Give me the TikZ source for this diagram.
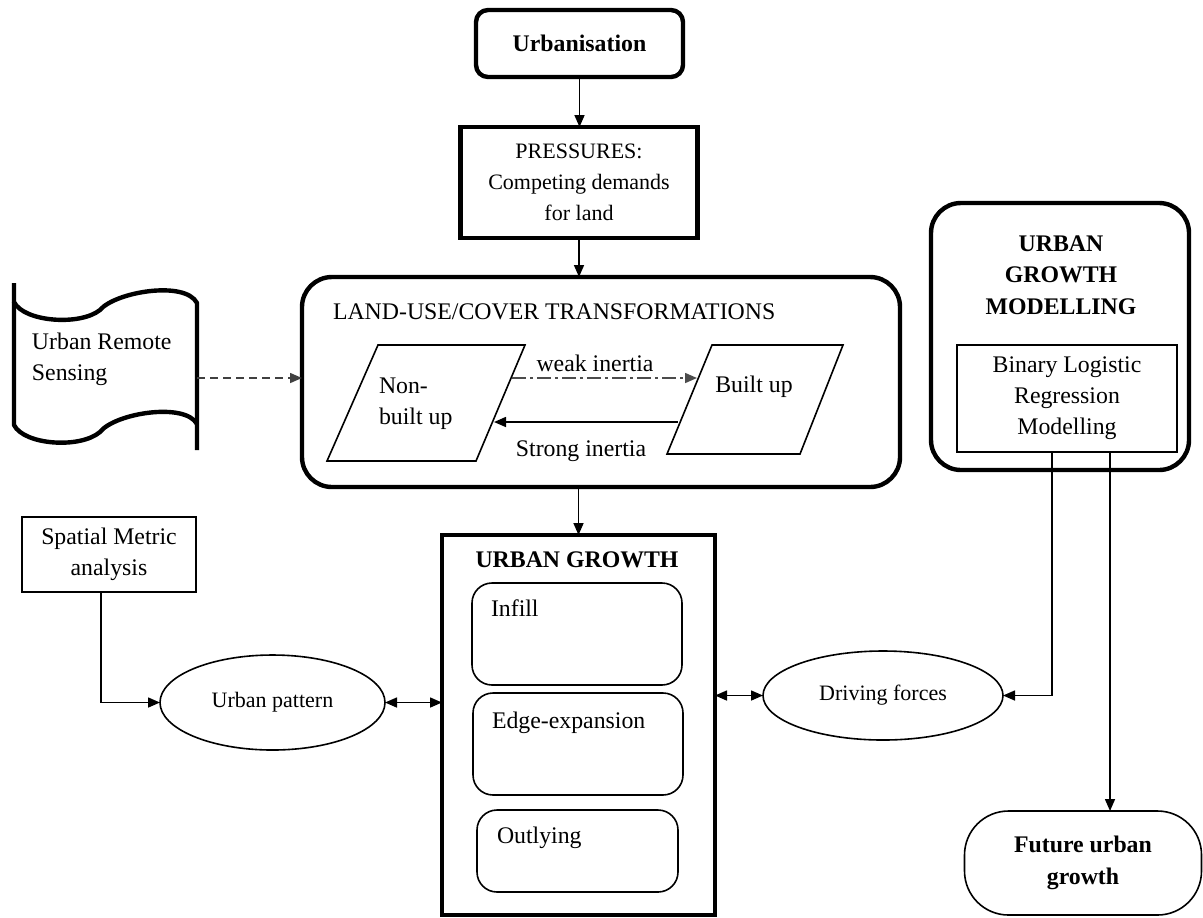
\documentclass[tikz,border=0pt]{standalone}
\usepackage{fontspec}
\setmainfont{Liberation Serif}
\usetikzlibrary{arrows.meta,shapes.geometric,calc}
\begin{document}
\begin{tikzpicture}[x=0.5pt,y=-0.5pt,
  every node/.style={font=\fontsize{11.9}{15.5}\selectfont, inner sep=0pt, outer sep=0pt},
  small/.style={font=\fontsize{11}{15.5}\selectfont},
  bold/.style={font=\fontsize{11.9}{15.8}\selectfont\bfseries},
  thickbox/.style={draw, line width=2.2pt, minimum width=#1},
  thinbox/.style={draw, line width=0.8pt},
  arr/.style={line width=0.8pt, -{Triangle[length=6pt,width=5pt]}},
  darr/.style={line width=0.8pt, {Triangle[length=6pt,width=5pt]}-{Triangle[length=6pt,width=5pt]}},
  txt/.style={align=center},
  rsline/.style={line width=2.2pt, line join=round}
]
\useasboundingbox (0,0) rectangle (1203,917);

% Urbanisation
\node[thickbox=103.5pt, minimum height=33.5pt, rounded corners=6pt, bold] (urb) at (579.5,43.5) {Urbanisation};
% Pressures
\node[thickbox=118.5pt, minimum height=55.5pt, txt, small] (pres) at (579,182.5) {PRESSURES:\\Competing demands\\for land};
% Land-use box
\node[thickbox=299pt, minimum height=105pt, rounded corners=15pt] (land) at (601,382) {};
\node[anchor=west] (landtitle) at (333,312) {LAND-USE/COVER TRANSFORMATIONS};

% Non-built up parallelogram
\draw[line width=0.8pt] (378,345) -- (525,345) -- (476,461) -- (327,461) -- cycle;
\node[anchor=west, align=left] (nonbuilt) at (379,404) {Non-\\built up};
% Built up parallelogram
\draw[line width=0.8pt] (712,345) -- (843,345) -- (800,454) -- (667,454) -- cycle;
\node (built) at (754,387) {Built up};

\coordinate (wA) at (512,378);
\coordinate (wB) at (697,378);
\coordinate (sA) at (678,422);
\coordinate (sB) at (494,422);
\draw[arr, gray!60!black, dash pattern=on 7pt off 2pt on 1.5pt off 2pt] (wA) -- (wB);
\draw[arr] (sA) -- (sB);
\node (weak) at (595,363) {weak inertia};
\node (strong) at (581,451) {Strong inertia};

% Urban Remote Sensing (tape shape)
\draw[rsline] (14,283) -- (14,302) .. controls (24,322) and (80,326) .. (100,310) .. controls (115,292) and (185,280) .. (197,303) -- (197,450);
\draw[rsline] (14,302) -- (14,425) .. controls (24,445) and (80,449) .. (100,432) .. controls (115,413) and (185,402) .. (197,424);
\node[anchor=west, align=left] (rs) at (32,359) {Urban Remote\\Sensing};
\coordinate (rsout) at (197,378);
\draw[arr, gray!50!black, dash pattern=on 4pt off 2.5pt] (rsout) -- (rsout -| land.west);

% Urban growth modelling
\node[thickbox=129pt, minimum height=133.5pt, rounded corners=15pt] (ugm) at (1060,336.5) {};
\node[txt, bold] (ugmtitle) at (1061,275) {URBAN\\GROWTH\\MODELLING};
\node[thinbox, minimum width=110pt, minimum height=53.5pt, txt] (blr) at (1067,398.5) {Binary Logistic\\Regression\\Modelling};

% Future urban growth
\node[draw, line width=0.8pt, minimum width=118.5pt, minimum height=52pt, rounded corners=22pt, txt, bold] (future) at (1083,863) {Future urban\\growth};

% Spatial metric analysis
\node[thinbox, minimum width=87pt, minimum height=37.5pt, txt] (sma) at (109,554.5) {Spatial Metric\\analysis};

% Urban pattern ellipse
\node[draw, ellipse, line width=0.8pt, minimum width=112.5pt, minimum height=47.5pt, small] (up) at (272.5,702.5) {Urban pattern};

% Urban growth box
\node[thickbox=136.5pt, minimum height=190pt] (ug) at (578.5,725) {};
\node[bold] (ugtitle) at (577,560) {URBAN GROWTH};
\node[thinbox, minimum width=105pt, minimum height=51pt, rounded corners=10pt] (infill) at (577,634) {};
\node[anchor=west] (infillt) at (491,608) {Infill};
\node[thinbox, minimum width=105pt, minimum height=51pt, rounded corners=10pt] (edge) at (578,744) {};
\node[anchor=west] (edget) at (492,723) {Edge-expansion};
\node[thinbox, minimum width=100.5pt, minimum height=41pt, rounded corners=10pt] (out) at (577.5,851) {};
\node[anchor=west] (outt) at (497,838) {Outlying};

% Driving forces ellipse
\node[draw, ellipse, line width=0.8pt, minimum width=120pt, minimum height=44.5pt, small] (df) at (883,695.5) {Driving forces};

% Connectors
\draw[arr] (urb.south) -- (urb.south |- pres.north);
\draw[arr] (pres.south) -- (pres.south |- land.north);
\draw[arr] (ug.north |- land.south) -- (ug.north);
\draw[arr] ([xshift=-4pt]sma.south) |- (up.west);
\draw[darr] (up.east) -- (up.east -| ug.west);
\draw[darr] (ug.east |- df.west) -- (df.west);
\draw[arr] ([xshift=-7.5pt]blr.south) |- (df.east);
\draw[arr] ([xshift=21.5pt]blr.south) -- ([xshift=21.5pt]blr.south |- future.north);
\end{tikzpicture}
\end{document}
